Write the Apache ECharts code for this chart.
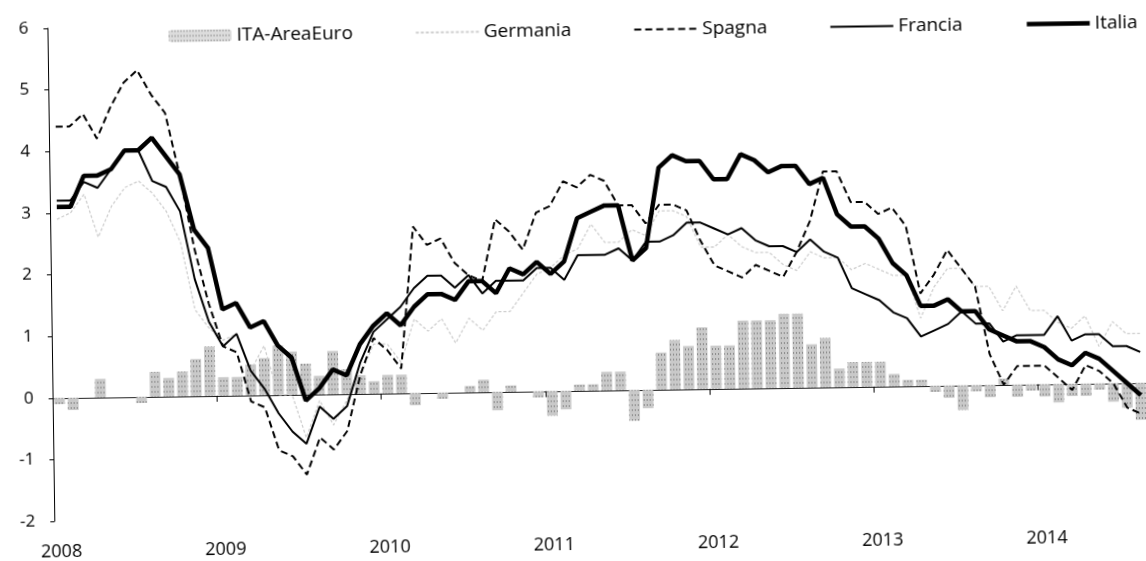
<!DOCTYPE html>
<html>
<head>
<meta charset="utf-8">
<script src="https://cdn.jsdelivr.net/npm/echarts@6/dist/echarts.min.js"></script>
<style>
html, body { margin: 0; padding: 0; background: #fff; overflow: hidden; }
#chart { width: 1146px; height: 561px; transform: rotate(-0.8deg); transform-origin: 573px 280px; }
</style>
</head>
<body>
<div id="chart"></div>
<script>
// monthly data, Jan 2008 - Aug 2014
var years = ['2008', '2009', '2010', '2011', '2012', '2013', '2014'];
var monthsInLastYear = 8;

var itaAreaEuro = [
  -0.1, -0.2, 0.0, 0.3, 0.0, 0.0, -0.1, 0.4, 0.3, 0.4, 0.6, 0.8,
  0.3, 0.3, 0.5, 0.6, 0.8, 0.7, 0.5, 0.3, 0.7, 0.4, 0.3, 0.2,
  0.3, 0.3, -0.2, 0.0, -0.1, 0.0, 0.1, 0.2, -0.3, 0.1, 0.0, -0.1,
  -0.4, -0.3, 0.1, 0.1, 0.3, 0.3, -0.5, -0.3, 0.6, 0.8, 0.7, 1.0,
  0.7, 0.7, 1.1, 1.1, 1.1, 1.2, 1.2, 0.7, 0.8, 0.3, 0.4, 0.4,
  0.4, 0.2, 0.1, 0.1, -0.1, -0.2, -0.4, -0.1, -0.2, 0.1, -0.2, -0.1,
  -0.2, -0.3, -0.2, -0.2, -0.1, -0.3, -0.4, -0.6
];
var germania = [
  2.9, 3.0, 3.3, 2.6, 3.1, 3.4, 3.5, 3.3, 3.0, 2.5, 1.4, 1.1,
  0.9, 1.0, 0.4, 0.8, 0.0, 0.0, -0.7, -0.1, -0.5, -0.1, 0.3, 0.8,
  0.8, 0.5, 1.2, 1.0, 1.2, 0.8, 1.2, 1.0, 1.3, 1.3, 1.6, 1.9,
  2.0, 2.2, 2.3, 2.7, 2.4, 2.4, 2.6, 2.5, 2.9, 2.9, 2.8, 2.3,
  2.3, 2.5, 2.3, 2.2, 2.2, 2.0, 1.9, 2.2, 2.1, 2.1, 1.9, 2.0,
  1.9, 1.8, 1.8, 1.1, 1.6, 1.9, 1.9, 1.6, 1.6, 1.2, 1.6, 1.2,
  1.2, 1.0, 0.9, 1.1, 0.6, 1.0, 0.8, 0.8
];
var spagna = [
  4.4, 4.4, 4.6, 4.2, 4.7, 5.1, 5.3, 4.9, 4.6, 3.6, 2.4, 1.5,
  0.8, 0.7, -0.1, -0.2, -0.9, -1.0, -1.3, -0.7, -0.9, -0.6, 0.3, 0.9,
  0.7, 0.4, 2.7, 2.4, 2.5, 2.1, 1.9, 1.8, 2.8, 2.6, 2.3, 2.9,
  3.0, 3.4, 3.3, 3.5, 3.4, 3.0, 3.0, 2.7, 3.0, 3.0, 2.9, 2.4,
  2.0, 1.9, 1.8, 2.0, 1.9, 1.8, 2.2, 2.7, 3.5, 3.5, 3.0, 3.0,
  2.8, 2.9, 2.6, 1.5, 1.8, 2.2, 1.9, 1.6, 0.5, 0.0, 0.3, 0.3,
  0.3, 0.1, -0.1, 0.3, 0.2, 0.0, -0.4, -0.5
];
var francia = [
  3.2, 3.2, 3.5, 3.4, 3.7, 4.0, 4.0, 3.5, 3.4, 3.0, 1.9, 1.2,
  0.8, 1.0, 0.4, 0.1, -0.3, -0.6, -0.8, -0.2, -0.4, -0.2, 0.5, 1.0,
  1.2, 1.4, 1.7, 1.9, 1.9, 1.7, 1.9, 1.6, 1.8, 1.8, 1.8, 2.0,
  2.0, 1.8, 2.2, 2.2, 2.2, 2.3, 2.1, 2.4, 2.4, 2.5, 2.7, 2.7,
  2.6, 2.5, 2.6, 2.4, 2.3, 2.3, 2.2, 2.4, 2.2, 2.1, 1.6, 1.5,
  1.4, 1.2, 1.1, 0.8, 0.9, 1.0, 1.2, 1.0, 1.0, 0.7, 0.8, 0.8,
  0.8, 1.1, 0.7, 0.8, 0.8, 0.6, 0.6, 0.5
];
var italia = [
  3.1, 3.1, 3.6, 3.6, 3.7, 4.0, 4.0, 4.2, 3.9, 3.6, 2.7, 2.4,
  1.4, 1.5, 1.1, 1.2, 0.8, 0.6, -0.1, 0.1, 0.4, 0.3, 0.8, 1.1,
  1.3, 1.1, 1.4, 1.6, 1.6, 1.5, 1.8, 1.8, 1.6, 2.0, 1.9, 2.1,
  1.9, 2.1, 2.8, 2.9, 3.0, 3.0, 2.1, 2.3, 3.6, 3.8, 3.7, 3.7,
  3.4, 3.4, 3.8, 3.7, 3.5, 3.6, 3.6, 3.3, 3.4, 2.8, 2.6, 2.6,
  2.4, 2.0, 1.8, 1.3, 1.3, 1.4, 1.2, 1.2, 0.9, 0.8, 0.7, 0.7,
  0.6, 0.4, 0.3, 0.5, 0.4, 0.2, 0.0, -0.2
];

var categories = [];
years.forEach(function (y, k) {
  var n = (k === years.length - 1) ? monthsInLastYear : 12;
  for (var m = 1; m <= n; m++) {
    categories.push(y + '-' + (m < 10 ? '0' + m : m));
  }
});

function isJanuary(index) {
  return index % 12 === 0;
}

// legend entries for the lines: only the stroke, no marker
var noMarker = { opacity: 0 };

var chart = echarts.init(document.getElementById('chart'));

var option = {
  animation: false,
  backgroundColor: '#fff',
  textStyle: { fontFamily: 'Open Sans', color: '#000' },
  grid: {
    left: 51,
    top: 21,
    width: 1097,
    height: 493
  },
  legend: {
    top: 21,
    left: 172,
    width: 1000,
    padding: 0,
    itemGap: 62,
    itemWidth: 63,
    itemHeight: 12,
    textStyle: { fontFamily: 'Open Sans', fontSize: 19, color: '#000' },
    data: [
      { name: 'ITA-AreaEuro', itemStyle: { color: '#dcdcdc' } },
      { name: 'Germania', itemStyle: noMarker },
      { name: 'Spagna', itemStyle: noMarker },
      { name: 'Francia', itemStyle: noMarker },
      { name: 'Italia', itemStyle: noMarker, lineStyle: { width: 4.5 } }
    ]
  },
  xAxis: [{
    type: 'category',
    data: categories,
    boundaryGap: true,
    position: 'bottom',
    axisLine: { onZero: true, lineStyle: { color: '#222', width: 1 } },
    axisTick: { show: true, interval: isJanuary, length: 6, lineStyle: { color: '#000' } },
    axisLabel: { show: false },
    splitLine: { show: false }
  }, {
    type: 'category',
    data: categories,
    boundaryGap: true,
    position: 'bottom',
    axisLine: { show: false, onZero: false },
    axisTick: { show: false },
    axisLabel: {
      interval: isJanuary,
      margin: 22,
      fontSize: 18,
      color: '#000',
      fontFamily: 'Open Sans',
      formatter: function (value) { return value.slice(0, 4); }
    },
    splitLine: { show: false }
  }],
  yAxis: {
    type: 'value',
    min: -2,
    max: 6,
    interval: 1,
    axisLine: { show: true, lineStyle: { color: '#000', width: 1 } },
    axisTick: { show: true, length: 4, lineStyle: { color: '#000' } },
    axisLabel: { fontSize: 17, color: '#000', margin: 19, fontFamily: 'Open Sans' },
    splitLine: { show: false }
  },
  series: [{
    name: 'ITA-AreaEuro',
    type: 'bar',
    data: itaAreaEuro,
    barCategoryGap: '22%',
    itemStyle: {
      color: '#c9c9c9',
      decal: {
        symbol: 'rect',
        symbolSize: 0.8,
        color: 'rgba(0,0,0,0.5)',
        dashArrayX: [1, 2],
        dashArrayY: [2, 3],
        rotation: 0
      }
    },
    z: 1
  }, {
    name: 'Germania',
    type: 'line',
    data: germania,
    symbol: 'none',
    lineStyle: { color: '#cfcfcf', width: 1.3, type: [3, 2] },
    itemStyle: { color: '#cfcfcf' },
    z: 2
  }, {
    name: 'Spagna',
    type: 'line',
    data: spagna,
    symbol: 'none',
    lineStyle: { color: '#000', width: 2, type: [7, 4] },
    itemStyle: { color: '#000' },
    z: 3
  }, {
    name: 'Francia',
    type: 'line',
    data: francia,
    symbol: 'none',
    lineStyle: { color: '#000', width: 2 },
    itemStyle: { color: '#000' },
    z: 4
  }, {
    name: 'Italia',
    type: 'line',
    data: italia,
    symbol: 'none',
    lineStyle: { color: '#000', width: 4.5 },
    itemStyle: { color: '#000' },
    z: 5
  }]
};

chart.setOption(option);

window.onresize = function () {
  chart.resize();
};
</script>
</body>
</html>
